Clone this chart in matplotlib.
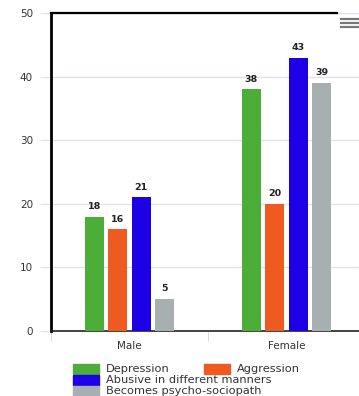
import numpy as np
import matplotlib.pyplot as plt
from matplotlib.patches import Rectangle
from matplotlib.lines import Line2D

groups = ["Male", "Female"]
series = ["Depression", "Aggression", "Abusive in different manners",
          "Becomes psycho-sociopath"]
values = [[18, 38], [16, 20], [21, 43], [5, 39]]
colors = ["#4cae38", "#ee5a1f", "#1e00e6", "#a7afb0"]
yticks = [0, 10, 20, 30, 40, 50]

W, H = 359, 396
fig = plt.figure(figsize=(W / 100, H / 100), dpi=100)
ax = fig.add_axes([51 / W, 65 / H, 314 / W, 318 / H])

x = np.arange(len(groups))
width = 0.12
offsets = [-0.225, -0.075, 0.075, 0.225]
for vals, off, col in zip(values, offsets, colors):
    bars = ax.bar(x + off, vals, width, color=col, zorder=3)
    for b, v in zip(bars, vals):
        ax.text(b.get_x() + b.get_width() / 2, v + 0.9, str(v), ha="center",
                va="bottom", fontsize=6.8, fontweight="bold", color="#222222")

ax.set_xlim(-0.5, 1.5)
ax.set_ylim(0, 50)
ax.set_yticks(yticks)
ax.grid(axis="y", color="#dde3e8", lw=1, zorder=0)
ax.tick_params(axis="y", length=8, color="#dde3e8", labelsize=7.5,
               labelcolor="#333333", pad=5)

ax.set_xticks(x)
ax.set_xticklabels(groups)
ax.set_xticks([-0.5, 0.5, 1.5], minor=True)
ax.tick_params(axis="x", which="major", length=0, labelsize=7.5,
               labelcolor="#333333", pad=7)
ax.tick_params(axis="x", which="minor", length=7, color="#c8d6e6")

ax.spines["right"].set_visible(False)
ax.spines["left"].set_linewidth(2)
ax.spines["left"].set_color("black")
ax.spines["bottom"].set_linewidth(1.2)
ax.spines["bottom"].set_color("#222222")
ax.spines["top"].set_linewidth(1.6)
ax.spines["top"].set_bounds(-0.5, 1.32)

# menu icon
for yy in [19, 23, 27]:
    fig.add_artist(Line2D([341 / W, 358 / W], [1 - yy / H, 1 - yy / H],
                          color="#777777", lw=1.6))

# legend
legend_pos = [(73, 369), (204, 369), (73, 380), (73, 391)]
for (px, py), name, col in zip(legend_pos, series, colors):
    fig.add_artist(Rectangle((px / W, 1 - (py + 5) / H), 26 / W, 10 / H,
                             color=col, transform=fig.transFigure))
    fig.text((px + 33) / W, 1 - py / H, name, fontsize=8.2, color="#333333",
             va="center", ha="left")

fig.savefig("out.png", dpi=100)
